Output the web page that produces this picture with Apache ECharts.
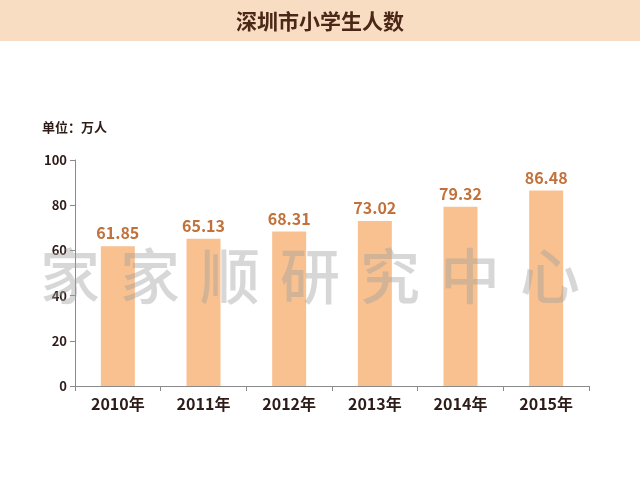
<!DOCTYPE html>
<html><head><meta charset="utf-8">
<script src="https://cdn.jsdelivr.net/npm/echarts@6/dist/echarts.min.js"></script>
<style>html,body{margin:0;padding:0;background:#fff;}#c{width:640px;height:494px;}</style>
</head><body><div id="c"></div>
<script>
var titleText = '深圳市小学生人数';
var unitText = '单位：万人';
var categories = ['2010年','2011年','2012年','2013年','2014年','2015年'];
var values = [61.85, 65.13, 68.31, 73.02, 79.32, 86.48];
var watermarkChars = ['家','家','顺','研','究','中','心'];

var font = '"Noto Sans CJK SC", "Noto Sans", sans-serif';
var chart = echarts.init(document.getElementById('c'));
var graphics = [
  {type:'rect', left:0, top:0, shape:{width:640, height:41}, style:{fill:'#f9ddc3'}, z:-1}
];
watermarkChars.forEach(function(ch, i){
  graphics.push({type:'text', left:40 + i*80, top:246, z:100,
    style:{text:ch, fill:'rgba(160,160,160,0.42)', font:'500 60px ' + font}});
});
graphics.push({type:'text', left:42, top:121, style:{text:unitText, fill:'#2e1c18', font:'bold 13px ' + font}});

chart.setOption({
  backgroundColor:'#ffffff',
  title:{text:titleText, left:'center', top:6, textStyle:{fontFamily:font, fontSize:21, fontWeight:'bold', color:'#4a2716'}},
  graphic: graphics,
  grid:{left:75, right:51, top:160, bottom:108},
  xAxis:{type:'category', data:categories,
    axisLine:{lineStyle:{color:'#8a8a8a', width:1}},
    axisTick:{show:true, length:5, lineStyle:{color:'#8a8a8a'}},
    axisLabel:{fontFamily:font, fontSize:16, fontWeight:'bold', color:'#2e1c18', margin:10}},
  yAxis:{type:'value', min:0, max:100, interval:20,
    axisLine:{show:true, lineStyle:{color:'#8a8a8a', width:1}},
    axisTick:{show:true, length:5, lineStyle:{color:'#8a8a8a'}},
    splitLine:{show:false},
    axisLabel:{fontFamily:font, fontSize:13, fontWeight:'bold', color:'#2e1c18', margin:8}},
  series:[{type:'bar', data:values, barWidth:34,
    itemStyle:{color:'#f9c190'},
    label:{show:true, position:'top', distance:5, fontFamily:font, fontSize:16, fontWeight:'bold', color:'#c2713a',
      formatter:function(p){return p.value.toFixed(2);}}}]
});
</script></body></html>
